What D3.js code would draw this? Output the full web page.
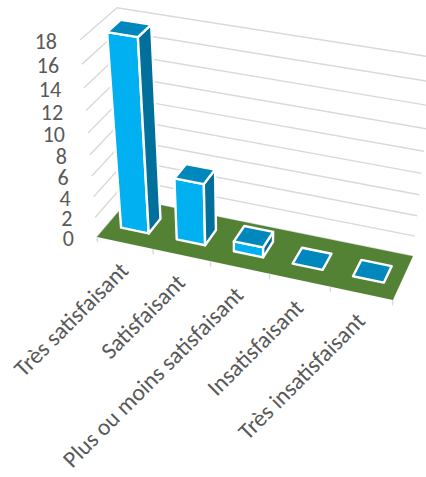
<!DOCTYPE html>
<html><head><meta charset="utf-8">
<script src="https://cdn.jsdelivr.net/npm/d3@7"></script>
<style>body{margin:0;background:#fff} svg{display:block}</style>
</head><body><svg id="chart" width="426" height="477"></svg>
<script>
// ---- data ----
const categories = ["Très satisfaisant", "Satisfaisant", "Plus ou moins satisfaisant", "Insatisfaisant", "Très insatisfaisant"];
const values = [18, 6, 1, 0, 0];
const tickValues = [0, 2, 4, 6, 8, 10, 12, 14, 16, 18];

// ---- 3D perspective camera (homogeneous columns for unit axes u, v, w and origin) ----
const cam = {
  u: [269.8, 43.05, -0.0665],
  v: [-25.42, -201.24, -0.1053],
  w: [38.77, -28.5, 0.0486],
  o: [97, 237, 1]
};
function project(u, v, w) {
  const X = cam.o[0] + u * cam.u[0] + v * cam.v[0] + w * cam.w[0];
  const Y = cam.o[1] + u * cam.u[1] + v * cam.v[1] + w * cam.w[1];
  const Z = cam.o[2] + u * cam.u[2] + v * cam.v[2] + w * cam.w[2];
  return [X / Z, Y / Z];
}

const x = d3.scaleBand().domain(categories).range([0, 1]).paddingInner(0.5).paddingOuter(0.25);
const y = d3.scaleLinear().domain([0, 18]).range([0, 1]);
const zFront = 0.31, zBack = 0.69;

const svg = d3.select("#chart");
const line = d3.line();
const poly = pts => line(pts.map(p => project(...p))) + "Z";
const font = "Carlito, Calibri, Lato, sans-serif";

// gridlines on side and back walls
svg.append("g").selectAll("path").data(tickValues).join("path")
  .attr("d", t => line([project(0, y(t), 0), project(0, y(t), 1), project(1, y(t), 1)]))
  .attr("fill", "none").attr("stroke", "#D9D9D9").attr("stroke-width", 1.4);

// floor
svg.append("path").attr("d", poly([[0, 0, 0], [1, 0, 0], [1, 0, 1], [0, 0, 1]]))
  .attr("fill", "#548235");

// category tick marks
svg.append("g").selectAll("path").data(d3.range(categories.length + 1)).join("path")
  .attr("d", i => line([project(i / categories.length, 0, 0), project(i / categories.length, -0.03, 0)]))
  .attr("stroke", "#D9D9D9").attr("stroke-width", 1.4);

// bars
const bars = svg.append("g").selectAll("g").data(categories).join("g");
bars.each(function (c, i) {
  const g = d3.select(this);
  const u0 = x(c), u1 = u0 + x.bandwidth(), v = y(values[i]);
  const faces = [];
  if (values[i] > 0) {
    faces.push({ pts: [[u0, 0, zFront], [u1, 0, zFront], [u1, v, zFront], [u0, v, zFront]], fill: "#00B0F0" });
    faces.push({ pts: [[u1, 0, zFront], [u1, 0, zBack], [u1, v, zBack], [u1, v, zFront]], fill: "#006F9B" });
  }
  faces.push({ pts: [[u0, v, zFront], [u1, v, zFront], [u1, v, zBack], [u0, v, zBack]], fill: "#0088BC" });
  g.selectAll("path").data(faces).join("path")
    .attr("d", f => poly(f.pts)).attr("fill", f => f.fill)
    .attr("stroke", "#fff").attr("stroke-width", 2.4).attr("stroke-linejoin", "round");
});

// value axis labels
svg.append("g").selectAll("text").data(tickValues).join("text")
  .attr("x", t => project(0, y(t), 0)[0] - 23)
  .attr("y", t => project(0, y(t), 0)[1] + 1.5)
  .attr("text-anchor", "end").attr("dominant-baseline", "central")
  .attr("font-family", font).attr("font-size", 22).attr("fill", "#595959")
  .text(t => t);

// category labels
svg.append("g").selectAll("text").data(categories).join("text")
  .attr("transform", c => {
    const p = project(x(c) + x.bandwidth() / 2, 0, 0);
    return `translate(${p[0] + 5},${p[1] + 29}) rotate(-45)`;
  })
  .attr("text-anchor", "end")
  .attr("font-family", font).attr("font-size", 23.5).attr("fill", "#595959")
  .text(c => c);
</script>
</body></html>
